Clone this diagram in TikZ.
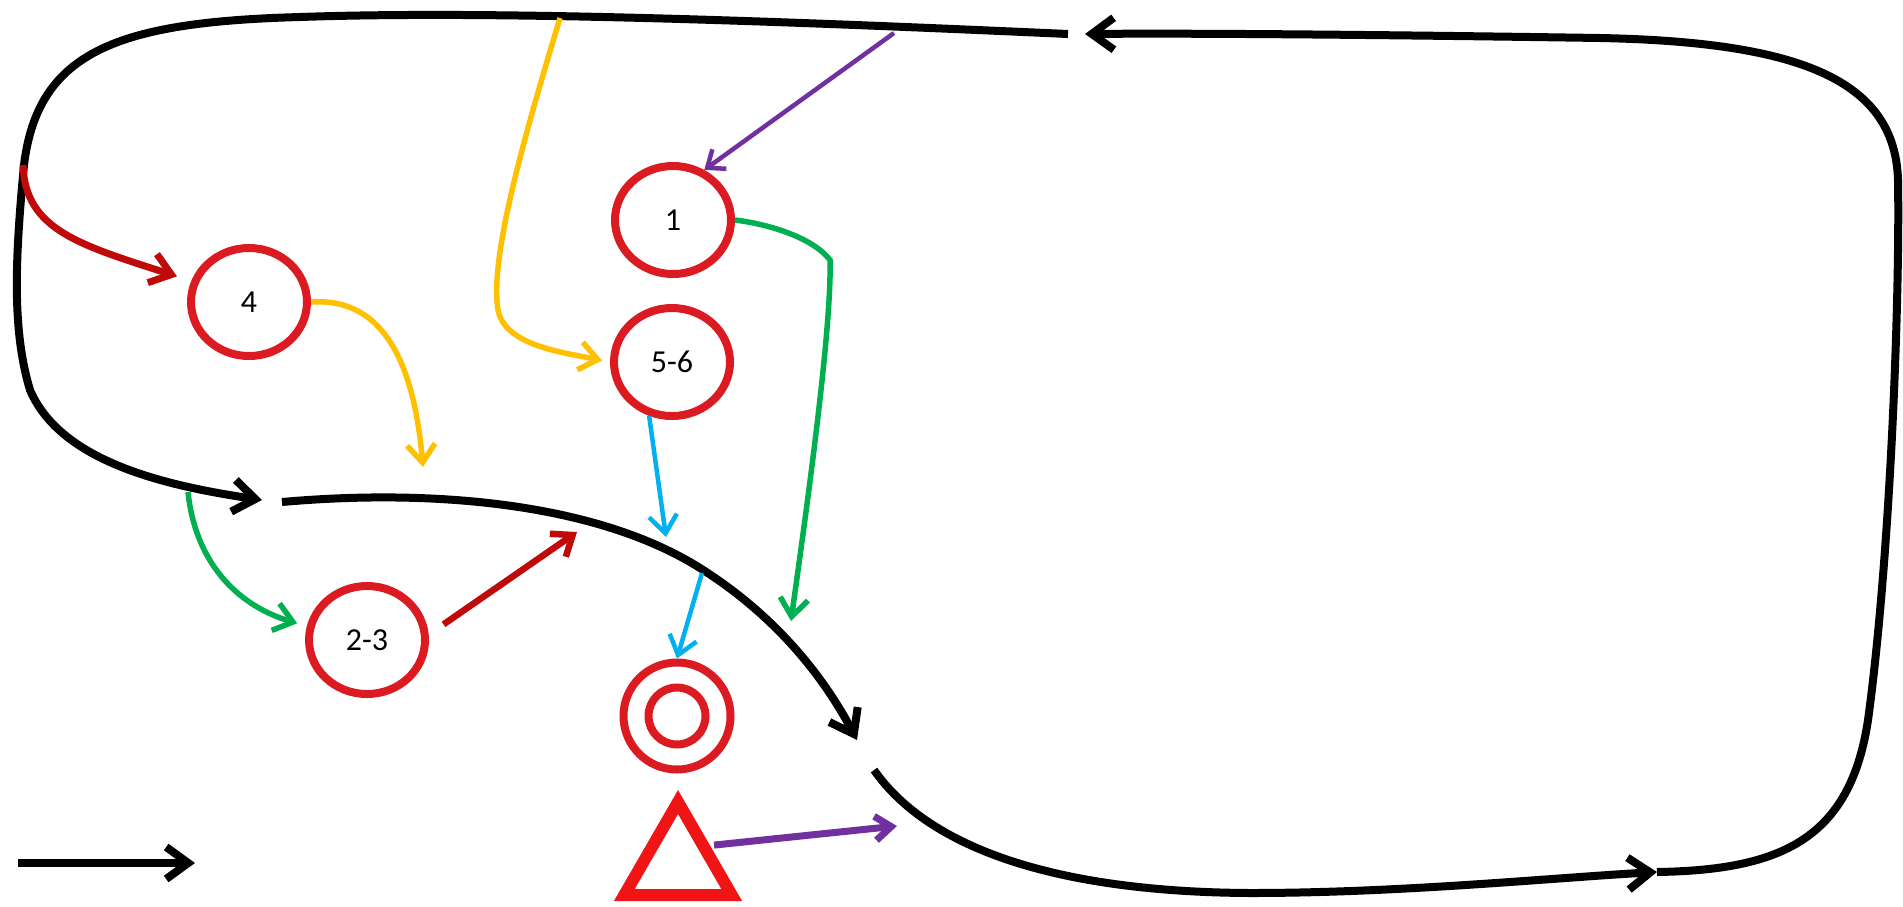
\documentclass[tikz,border=0pt]{standalone}
\usepackage{fontspec}
\setmainfont{Carlito}
\usetikzlibrary{arrows.meta,shapes.geometric}
\definecolor{ringred}{RGB}{220,26,34}
\definecolor{trired}{RGB}{240,20,20}
\definecolor{arrred}{RGB}{192,10,10}
\definecolor{arrgold}{RGB}{255,192,0}
\definecolor{arrgreen}{RGB}{0,176,80}
\definecolor{arrblue}{RGB}{0,176,240}
\definecolor{arrpurple}{RGB}{112,48,160}

\begin{document}
\begin{tikzpicture}[x=1pt,y=-1pt,
    stage/.style={ellipse,draw=ringred,line width=8pt,minimum width=116pt,minimum height=108pt,
      inner sep=0pt,font=\fontsize{32}{38}\selectfont},
    loopline/.style={line width=8pt,-{Straight Barb[length=22pt,width=32pt]}},
    feed/.style={line width=5.5pt,-{Straight Barb[length=18pt,width=28pt]}}]
  \useasboundingbox (0,0) rectangle (1903,906);
  \foreach \n/\x/\y/\t in {c1/673/220/1,c56/672/362/5-6,c4/249/302/4,c23/367/640/2-3}
    \node[stage] (\n) at (\x,\y) {\t};
  \node[circle,draw=ringred,line width=8pt,minimum size=107pt] (tgt) at (677,716) {};
  \node[circle,draw=ringred,line width=8pt,minimum size=57pt] (tgtin) at (tgt) {};
  \node[regular polygon,regular polygon sides=3,draw=trired,line width=12pt,
    minimum size=124pt,inner sep=0pt] (tri) at (678,864) {};

  \coordinate (r0) at (23,165);
  \coordinate (r1) at (577,532);
  \coordinate (y0) at (560,18);
  \coordinate (y1) at (423,467);
  \coordinate (p0) at (894,33);
  \coordinate (p1) at (897,826);
  \coordinate (g0) at (188,492);
  \coordinate (g1) at (791,621);
  \coordinate (b0) at (666,537);
  \coordinate (b1) at (702,573);
  \coordinate (k0) at (18,863);
  \coordinate (k1) at (195,863);

  \draw[loopline] (1068,34) .. controls (800,22) and (500,10) .. (300,17)
    .. controls (120,22) and (38,50) .. (24,165)
    .. controls (15,260) and (12,330) .. (30,390)
    .. controls (60,460) and (160,485) .. (262,500);
  \draw[loopline] (282,502) .. controls (440,488) and (600,505) .. (700,568)
    .. controls (770,612) and (820,670) .. (857,740);
  \draw[loopline] (874,770) .. controls (930,850) and (1060,892) .. (1250,893)
    .. controls (1400,893) and (1550,878) .. (1657,872);
  \draw[loopline] (1657,872) .. controls (1780,870) and (1850,840) .. (1868,720)
    .. controls (1890,560) and (1900,300) .. (1898,180)
    .. controls (1895,80) and (1800,42) .. (1600,38)
    .. controls (1400,35) and (1200,33) .. (1085,34);
  \draw[loopline] (k0) -- (k1);

  \draw[feed,arrred,line width=7pt,-{Straight Barb[length=20pt,width=30pt]},shorten >=15pt]
    (r0) .. controls (25,230) and (80,245) .. (c4.160);
  \draw[feed,arrgold] (c4.east) .. controls (370,298) and (412,340) .. (y1);
  \draw[feed,arrgold,shorten >=8pt] (y0) .. controls (520,150) and (490,260) .. (498,310)
    .. controls (505,345) and (560,352) .. (c56.west);
  \draw[feed,arrpurple,line width=4.5pt,-{Straight Barb[length=15pt,width=24pt]}] (p0) -- (c1.58);
  \draw[feed,arrgreen] (c1.east) .. controls (775,225) and (815,240) .. (830,260)
    .. controls (832,330) and (805,520) .. (g1);
  \draw[feed,arrgreen,shorten >=10pt] (g0) .. controls (195,560) and (235,605) .. (c23.167);
  \draw[feed,arrred,line width=6.5pt,shorten <=18pt] (c23.5) -- (r1);
  \draw[feed,arrblue,line width=4.5pt] (c56.-113) -- (b0);
  \draw[feed,arrblue,line width=4.5pt] (b1) -- (tgt.north);
  \draw[feed,arrpurple,line width=7pt,-{Straight Barb[length=16pt,width=24pt]},shorten <=4pt]
    (tri.30) -- (p1);
\end{tikzpicture}
\end{document}
